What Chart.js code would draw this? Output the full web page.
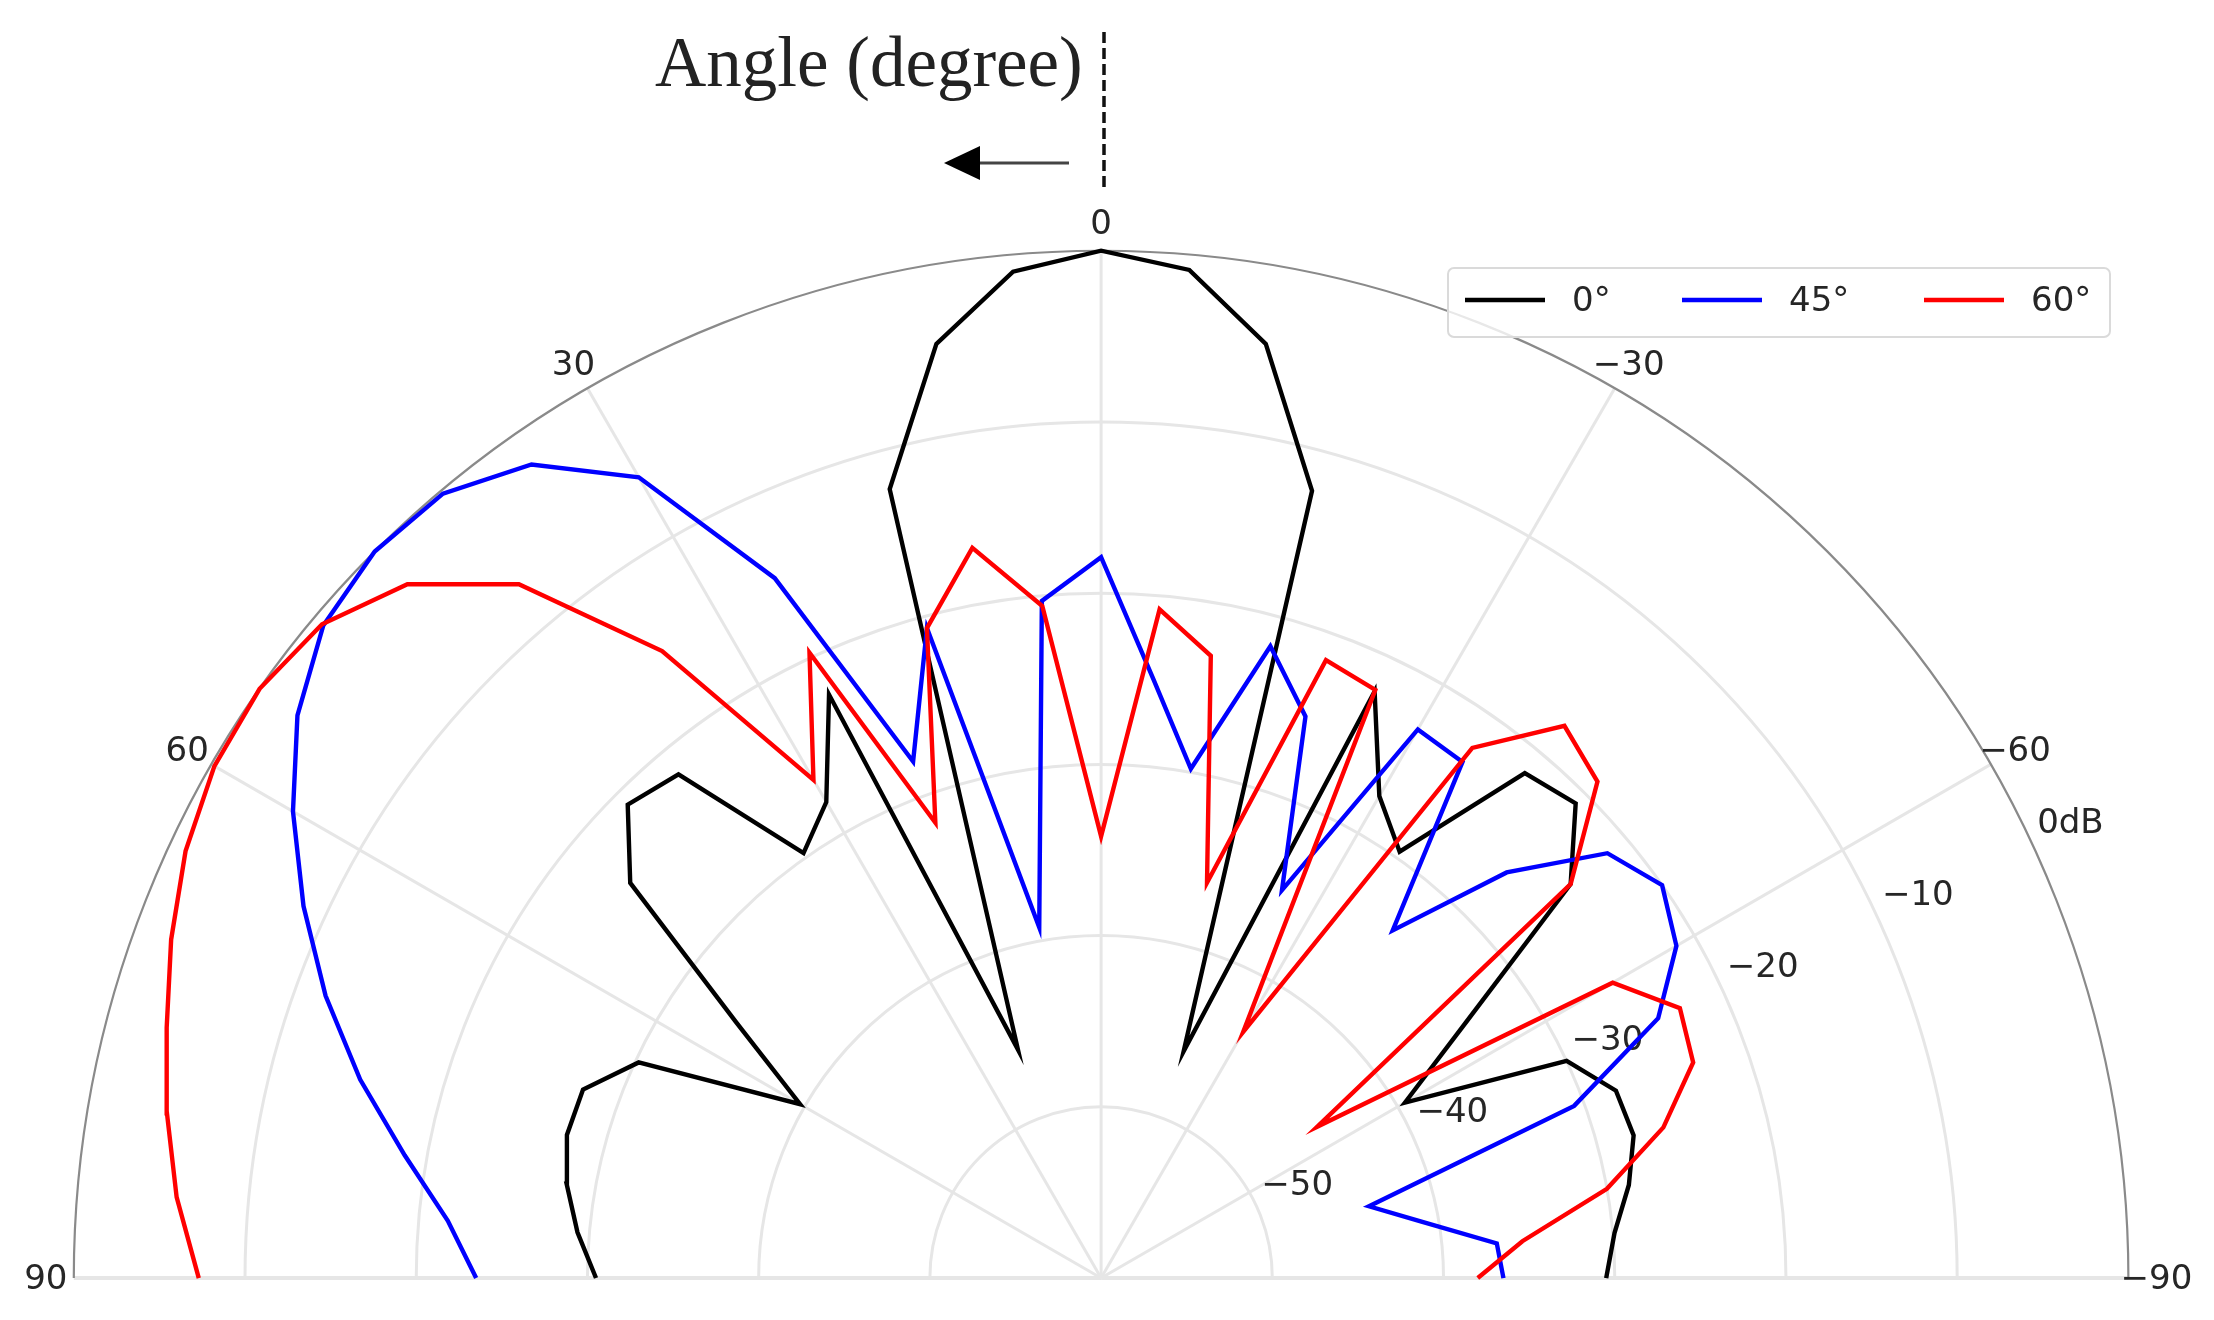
<!DOCTYPE html>
<html>
<head>
<meta charset="utf-8">
<script src="https://cdn.jsdelivr.net/npm/chart.js"></script>
<style>
  html, body { margin: 0; padding: 0; background: #fff; }
  canvas { display: block; }
</style>
</head>
<body>
<canvas id="chartCanvas" width="2214" height="1320"></canvas>
<script>
// Angles (degree), left side positive, 5 degree steps
const angles = [90, 85, 80, 75, 70, 65, 60, 55, 50, 45, 40, 35, 30, 25, 20, 15, 10, 5, 0,
  -5, -10, -15, -20, -25, -30, -35, -40, -45, -50, -55, -60, -65, -70, -75, -80, -85, -90];

// Normalised gain in dB for each steering angle
const gain0 = [-30.5, -29.3, -28.3, -27.7, -27.8, -30.2, -39.7, -34.0, -24.1, -20.9, -21.6, -29.7, -27.9, -22.4, -45.8, -12.3, -4.6, -1.0, 0,
  -0.9, -4.6, -12.4, -45.9, -22.2, -27.5, -29.6, -21.5, -20.8, -24.2, -34.0, -39.5, -30.0, -28.0, -27.8, -28.7, -29.9, -30.5];
const gain45 = [-23.5, -21.7, -18.7, -15.2, -11.8, -8.6, -5.5, -2.7, -0.7, 0, -0.2, -2.0, -6.0, -14.9, -27.9, -20.7, -39.2, -20.3, -17.9,
  -24.9, -29.8, -21.8, -25.1, -35.0, -23.0, -23.2, -33.5, -26.5, -21.4, -20.0, -21.2, -24.1, -30.6, -43.8, -41.0, -36.8, -36.5];
const gain60 = [-7.3, -5.8, -4.6, -3.5, -2.2, -1.0, -0.2, 0, -0.6, -2.7, -7.1, -15.3, -26.4, -19.7, -31.7, -20.7, -16.7, -20.6, -34.2,
  -20.8, -23.1, -36.1, -21.6, -22.1, -43.4, -22.2, -17.9, -19.0, -24.2, -44.6, -25.5, -22.7, -23.2, -26.0, -30.0, -35.3, -38.0];

const seriesLabels = ['0°', '45°', '60°'];
const seriesColors = ['#000000', '#0000ff', '#ff0000'];

// Axis ticks
const thetaTicks = [90, 60, 30, 0, -30, -60, -90];
const thetaTickLabels = ['90', '60', '30', '0', '−30', '−60', '−90'];
const radialTicks = [-50, -40, -30, -20, -10, 0];
const radialTickLabels = ['−50', '−40', '−30', '−20', '−10', '0dB'];
const rMin = -60, rMax = 0;

// polar (angle, dB) -> cartesian in "dB above floor" units
function toXY(values) {
  return values.map((v, i) => {
    const r = Math.max(0, v - rMin);
    const t = angles[i] * Math.PI / 180;
    return { x: -r * Math.sin(t), y: r * Math.cos(t) };
  });
}

const polarGrid = {
  id: 'polarGrid',
  beforeDatasetsDraw(chart) {
    const { ctx, scales: { x, y } } = chart;
    const px = (r, deg) => {
      const t = deg * Math.PI / 180;
      return [x.getPixelForValue(-r * Math.sin(t)), y.getPixelForValue(r * Math.cos(t))];
    };
    const cx = x.getPixelForValue(0), cy = y.getPixelForValue(0);
    const unit = x.getPixelForValue(1) - cx;
    const R = (rMax - rMin) * unit;
    ctx.save();
    // rings
    ctx.strokeStyle = '#e6e6e6';
    ctx.lineWidth = 3;
    radialTicks.forEach(v => {
      if (v === rMax) return;
      ctx.beginPath();
      ctx.arc(cx, cy, (v - rMin) * unit, Math.PI, 2 * Math.PI);
      ctx.stroke();
    });
    // spokes
    thetaTicks.forEach(a => {
      const [ex, ey] = px(rMax - rMin, a);
      ctx.beginPath();
      ctx.lineWidth = Math.abs(a) === 90 ? 4 : 3;
      ctx.moveTo(cx, cy);
      ctx.lineTo(ex, ey);
      ctx.stroke();
    });
    // outer boundary
    ctx.strokeStyle = '#8a8a8a';
    ctx.lineWidth = 2.2;
    ctx.beginPath();
    ctx.arc(cx, cy, R, Math.PI, 2 * Math.PI);
    ctx.stroke();

    // theta labels
    ctx.fillStyle = '#262626';
    ctx.font = '34px "DejaVu Sans"';
    ctx.textAlign = 'center';
    ctx.textBaseline = 'middle';
    thetaTicks.forEach((a, i) => {
      const t = a * Math.PI / 180;
      const rr = R + 28;
      ctx.fillText(thetaTickLabels[i], cx - rr * Math.sin(t), cy - rr * Math.cos(t) + 2);
    });
    // radial labels
    ctx.textAlign = 'left';
    radialTicks.forEach((v, i) => {
      const [lx, ly] = px(v - rMin, -65);
      ctx.fillText(radialTickLabels[i], lx + 5, ly - 20);
    });
    ctx.restore();
  },
  afterDraw(chart) {
    const { ctx } = chart;
    ctx.save();
    // title
    ctx.fillStyle = '#222';
    ctx.font = '71px "Liberation Serif"';
    ctx.textAlign = 'left';
    ctx.textBaseline = 'alphabetic';
    ctx.fillText('Angle (degree)', 655, 86);
    // dashed reference line
    ctx.strokeStyle = '#111';
    ctx.lineWidth = 3.5;
    ctx.setLineDash([11, 5]);
    ctx.beginPath();
    ctx.moveTo(1104, 32);
    ctx.lineTo(1104, 190);
    ctx.stroke();
    ctx.setLineDash([]);
    // arrow
    ctx.strokeStyle = '#444';
    ctx.lineWidth = 3;
    ctx.beginPath();
    ctx.moveTo(1069, 163);
    ctx.lineTo(975, 163);
    ctx.stroke();
    ctx.fillStyle = '#000';
    ctx.beginPath();
    ctx.moveTo(944, 163);
    ctx.lineTo(980, 146);
    ctx.lineTo(980, 180);
    ctx.closePath();
    ctx.fill();

    // legend
    const bx = 1448, by = 268, bw = 662, bh = 69;
    ctx.fillStyle = 'rgba(255,255,255,0.8)';
    ctx.strokeStyle = '#dadada';
    ctx.lineWidth = 2;
    ctx.beginPath();
    ctx.roundRect(bx, by, bw, bh, 6);
    ctx.fill();
    ctx.stroke();
    const starts = [1465, 1682, 1924];
    ctx.font = '34px "DejaVu Sans"';
    ctx.textBaseline = 'middle';
    chart.data.datasets.forEach((ds, i) => {
      const lx = starts[i];
      ctx.strokeStyle = ds.borderColor;
      ctx.lineWidth = 4.5;
      ctx.beginPath();
      ctx.moveTo(lx, 300);
      ctx.lineTo(lx + 80, 300);
      ctx.stroke();
      ctx.fillStyle = '#262626';
      ctx.fillText(ds.label, lx + 107, 302);
    });
    ctx.restore();
  }
};

const gains = [gain0, gain45, gain60];
const ctx = document.getElementById('chartCanvas');
new Chart(ctx, {
  type: 'scatter',
  data: {
    datasets: gains.map((g, i) => ({
      label: seriesLabels[i],
      data: toXY(g),
      showLine: true,
      borderColor: seriesColors[i],
      backgroundColor: seriesColors[i],
      borderWidth: 4.4,
      pointRadius: 0,
      fill: false,
      tension: 0,
      order: 2 - i
    }))
  },
  options: {
    responsive: false,
    animation: false,
    devicePixelRatio: 1,
    layout: { padding: 0 },
    plugins: { legend: { display: false }, tooltip: { enabled: false } },
    scales: {
      x: { type: 'linear', min: -64.31, max: 65.0, display: false },
      y: { type: 'linear', min: -2.45, max: 74.64, display: false }
    }
  },
  plugins: [polarGrid]
});
</script>
</body>
</html>
